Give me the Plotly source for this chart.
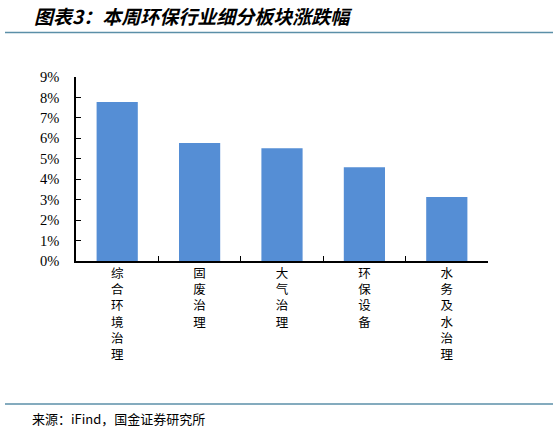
import plotly.graph_objects as go

categories = ["综合环境治理", "固废治理", "大气治理", "环保设备", "水务及水治理"]
values = [7.78, 5.77, 5.52, 4.58, 3.13]
y_ticks = [0, 1, 2, 3, 4, 5, 6, 7, 8, 9]
y_tick_labels = ["0%", "1%", "2%", "3%", "4%", "5%", "6%", "7%", "8%", "9%"]

title_text = "图表3：本周环保行业细分板块涨跌幅"
source_text = "来源：iFind，国金证券研究所"

W, H = 558, 435
L, R = 76, 488
T, B = 76.7, 261.5
pw, ph = R - L, B - T

def px(x):
    return (x - L) / pw

def py(y):
    return (B - y) / ph

labels = ["<br>".join(list(c)) for c in categories]

fig = go.Figure(go.Bar(
    x=labels, y=values,
    marker=dict(color="#558ED5", line=dict(width=0)),
))

fig.update_layout(
    width=W, height=H,
    margin=dict(l=L, r=W - R, t=T, b=H - B, pad=0),
    paper_bgcolor="white", plot_bgcolor="white",
    bargap=0.5,
    showlegend=False,
    xaxis=dict(
        type="category",
        showline=True, linecolor="black", linewidth=1.5,
        ticks="inside", ticklen=5, tickcolor="black", tickwidth=1,
        tickson="boundaries",
        showgrid=False,
        tickfont=dict(family="Noto Sans CJK SC", size=12.5, color="black"),
    ),
    yaxis=dict(
        range=[0, 9], tickmode="array", tickvals=y_ticks, ticktext=y_tick_labels,
        showline=True, linecolor="black", linewidth=1.5,
        ticks="inside", ticklen=5, tickcolor="black", tickwidth=1,
        ticklabelstandoff=12,
        showgrid=False, zeroline=False,
        tickfont=dict(family="Liberation Serif", size=14.5, color="black"),
    ),
    shapes=[
        dict(type="line", xref="paper", yref="paper", x0=px(5), x1=px(553), y0=py(32), y1=py(32),
             line=dict(color="#5B8FA8", width=1.5)),
        dict(type="line", xref="paper", yref="paper", x0=px(5), x1=px(553), y0=py(405), y1=py(405),
             line=dict(color="#5B8FA8", width=1.5)),
    ],
    annotations=[
        dict(text="<b><i>" + title_text + "</i></b>", xref="paper", yref="paper",
             x=px(32), y=py(15), xanchor="left", yanchor="middle", showarrow=False,
             font=dict(family="Noto Sans CJK SC", size=19, color="black")),
        dict(text=source_text, xref="paper", yref="paper",
             x=px(30), y=py(420), xanchor="left", yanchor="middle", showarrow=False,
             font=dict(family="Noto Sans CJK SC", size=13, color="black")),
    ],
)

fig.write_html("out.html", config={"displayModeBar": False},
               post_script="document.body.style.margin='0';document.body.style.overflow='hidden';")
